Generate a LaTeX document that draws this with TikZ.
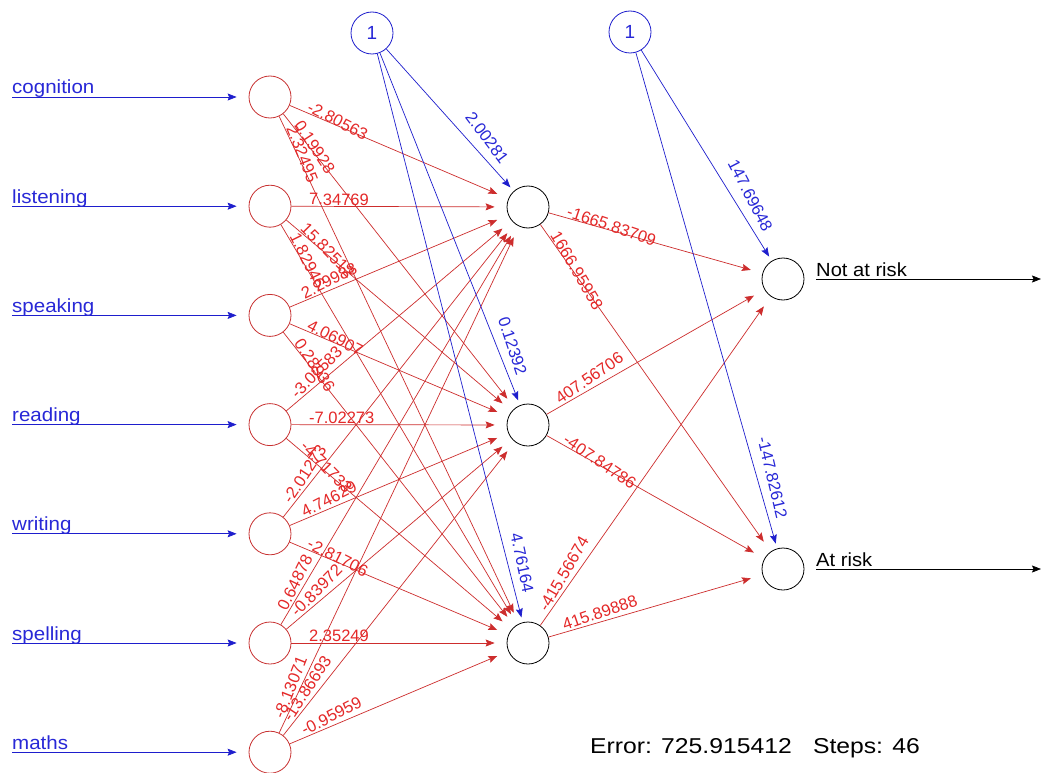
\documentclass[tikz,border=0pt]{standalone}
\usepackage{fontspec}
\setmainfont{Liberation Sans}
\usetikzlibrary{calc,arrows.meta}
\definecolor{wred}{RGB}{205,45,45}
\definecolor{tred}{RGB}{228,40,40}
\definecolor{nred}{RGB}{200,50,50}
\definecolor{bblue}{RGB}{30,30,205}
\definecolor{tblue}{RGB}{40,40,215}
\tikzset{
  neuron/.style={circle, draw, minimum size=42pt, inner sep=0pt, line width=0.8pt},
  innode/.style={neuron, draw=nred},
  hidnode/.style={neuron, draw=black},
  biasnode/.style={neuron, draw=bblue, text=tblue, font=\fontsize{19}{22}\selectfont},
  tip/.style={-{Stealth[length=9pt,width=7pt,inset=1.5pt]}},
  wedge/.style={tip, draw=wred, line width=0.7pt, shorten >=12pt},
  bedge/.style={tip, draw=bblue, line width=0.7pt, shorten >=5pt},
  wlab/.style={text=tred, font=\fontsize{16.5}{18}\selectfont, inner sep=1pt},
  blab/.style={text=tblue, font=\fontsize{16.5}{18}\selectfont, inner sep=1pt},
  inlab/.style={text=tblue, font=\fontsize{19}{22}\selectfont, inner sep=0pt, anchor=base west, xscale=1.08},
  outlab/.style={text=black, font=\fontsize{19}{22}\selectfont, inner sep=0pt, anchor=base west, xscale=1.06},
  errlab/.style={text=black, font=\fontsize{21.5}{25}\selectfont, inner sep=0pt, xscale=1.15},
}
\newcommand\wl[3]{%
  \path let \p1=($(#2)-(#1)$), \n1={atan2(\y1,\x1)}, \n3={atan2(1.2*\y1,\x1)},
    \n2={31+7*abs(cos(\n1))} in
    node[wlab, rotate=\n3, anchor=south west] at ($(#1)+(\n1:\n2)$) {#3};}
\newcommand\bl[3]{%
  \path let \p1=($(#2)-(#1)$), \n1={atan2(\y1,\x1)}, \n3={atan2(1.2*\y1,\x1)} in
    node[blab, rotate=\n3, anchor=east] at ($(#2)+(\n1:-48pt)+(\n1+90:13pt)$) {#3};}
\begin{document}
\begin{tikzpicture}[x=1pt,y=-1pt]
\useasboundingbox[fill=white] (0,0) rectangle (1041,773);
% input neurons
\foreach \k/\yy in {1/97,2/206.2,3/315.4,4/424.6,5/533.8,6/643,7/752.2}{
  \node[innode] (i\k) at (270,\yy) {};
  \coordinate (s\k) at (12,\yy);
}
% hidden, output, bias
\node[hidnode] (h1) at (528,207) {};
\node[hidnode] (h2) at (528,425) {};
\node[hidnode] (h3) at (528,643) {};
\node[hidnode] (o1) at (783,279) {};
\node[hidnode] (o2) at (783,569) {};
\node[biasnode] (b1) at (372,33) {1};
\node[biasnode] (b2) at (630,32) {1};
\coordinate (e1) at (1041,279);
\coordinate (e2) at (1041,569);
% input arrows and labels
\foreach \k/\t in {1/cognition,2/listening,3/speaking,4/reading,5/writing,6/spelling,7/maths}{
  \draw[tip, draw=bblue, line width=0.7pt, shorten >=12pt] (s\k) -- (i\k);
  \node[inlab] (t\k) at ($(s\k)+(0,-3)$) {\t};
}
% output arrows and labels
\draw[tip, black, line width=0.7pt, shorten <=12pt] (o1) -- (e1);
\draw[tip, black, line width=0.7pt, shorten <=12pt] (o2) -- (e2);
\node[outlab] (ot1) at (816,276) {Not at risk};
\node[outlab] (ot2) at (816,566) {At risk};
% connections
\foreach \i in {1,...,7}{\foreach \h in {1,2,3}{\draw[wedge] (i\i) -- (h\h);}}
\foreach \h in {1,2,3}{\foreach \o in {1,2}{\draw[wedge] (h\h) -- (o\o);}}
\foreach \h in {1,2,3}{\draw[bedge] (b1) -- (h\h);}
\foreach \o in {1,2}{\draw[bedge] (b2) -- (o\o);}
% weight labels
\foreach \a/\b/\t in {i1/h1/-2.80563, i1/h2/0.19928, i1/h3/2.32495,
  i2/h1/7.34769, i2/h2/15.82512, i2/h3/1.82946,
  i3/h1/2.29988, i3/h2/4.06907, i3/h3/0.28936,
  i4/h1/-3.02583, i4/h2/-7.02273, i4/h3/-4.71733,
  i5/h1/-2.01273, i5/h2/4.74629, i5/h3/-2.81706,
  i6/h1/0.64878, i6/h2/-0.83972, i6/h3/2.35249,
  i7/h1/-8.13071, i7/h2/-13.86693, i7/h3/-0.95959,
  h1/o1/-1665.83709, h1/o2/1666.95958, h2/o1/407.56706,
  h2/o2/-407.84786, h3/o1/-415.56674, h3/o2/415.89888}{\wl{\a}{\b}{\t}}
\foreach \a/\b/\t in {b1/h1/2.00281, b1/h2/0.12392, b1/h3/4.76164,
  b2/o1/147.69648, b2/o2/-147.82612}{\bl{\a}{\b}{\t}}
% error line
\node[errlab, anchor=base west] (err) at (590,753) {Error: 725.915412};
\node[errlab, anchor=base east] (steps) at (920,753) {Steps: 46};
\end{tikzpicture}
\end{document}
